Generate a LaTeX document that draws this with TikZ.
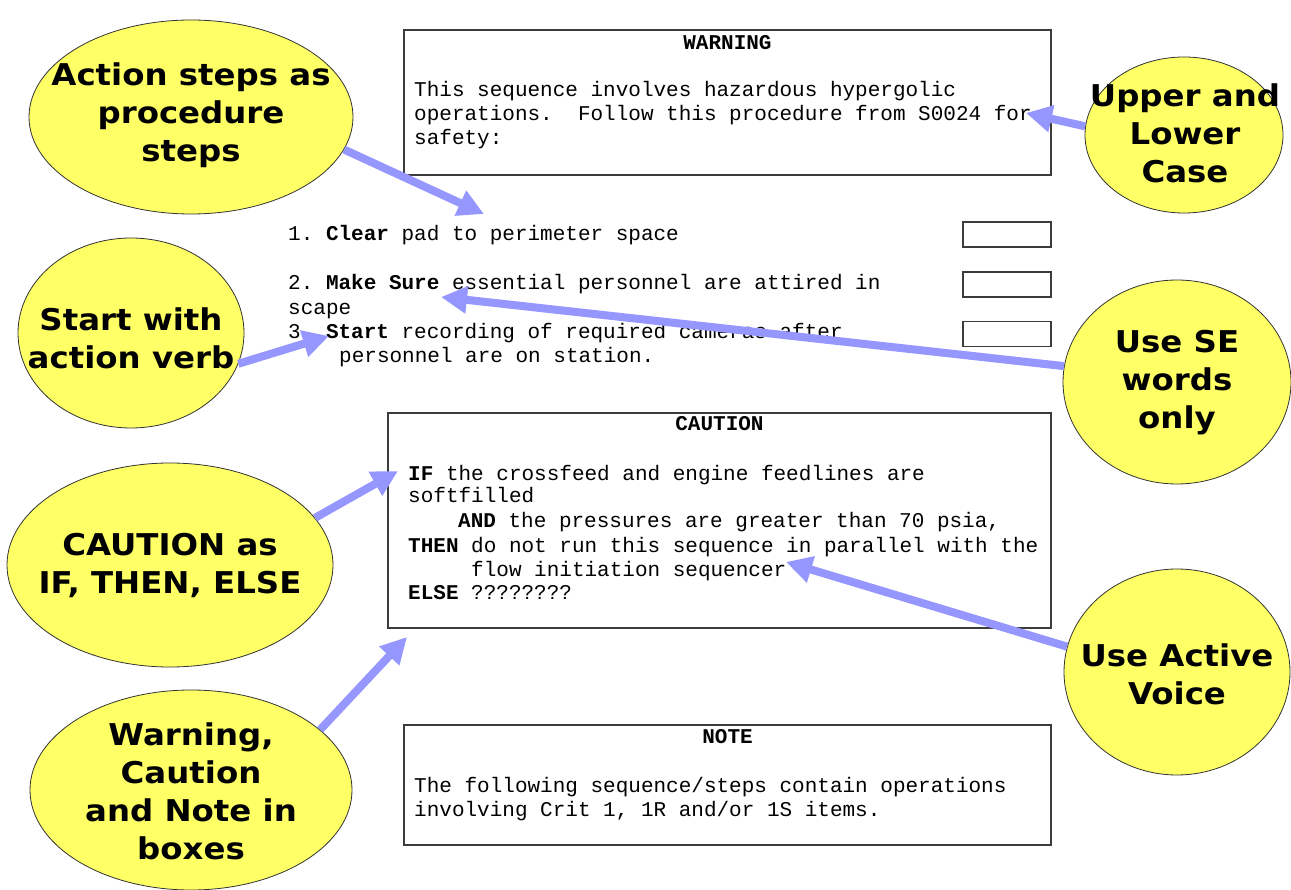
\documentclass[tikz,border=0pt]{standalone}
\usepackage{fontspec}
\usetikzlibrary{shapes.geometric,arrows.meta}
\newfontfamily\mono{Liberation Mono}
\newfontfamily\callfont[FakeStretch=1.08]{DejaVu Sans}
\definecolor{bubble}{RGB}{255,255,102}
\definecolor{pointer}{RGB}{150,150,255}
\definecolor{frame}{RGB}{60,60,60}
\frenchspacing
\tikzset{
  bubble/.style={ellipse, draw=black!80, line width=0.8pt, fill=bubble, inner sep=0pt},
  bubbletext/.style={font=\callfont\bfseries\fontsize{30}{38}\selectfont, align=center, text=black},
  pointer/.style={draw=pointer, line width=8pt, -{Triangle[length=26pt,width=26pt]}},
  panel/.style={draw=frame, line width=1.2pt, fill=white},
  tick/.style={draw=frame, line width=1.2pt, minimum width=88pt, minimum height=25pt, inner sep=0pt},
  ln/.style={font=\mono\fontsize{21}{24}\selectfont, anchor=base west, inner sep=0pt},
  ttl/.style={font=\mono\bfseries\fontsize{21}{24}\selectfont, anchor=base, inner sep=0pt}
}
\begin{document}
\begin{tikzpicture}[x=1pt,y=-1pt]
\useasboundingbox (0,0) rectangle (1291,890);
\fill[white] (0,0) rectangle (1291,890);

% text boxes
\draw[panel] (404,30) rectangle (1051,175);
\draw[panel] (388,413) rectangle (1051,628);
\draw[panel] (404,725) rectangle (1051,845);

% WARNING box
\node[ttl] (wt) at (727.5,50) {WARNING};
\node[ln] (w1) at (414,97) {This sequence involves hazardous hypergolic};
\node[ln] (w2) at (414,121) {operations.\ \ Follow this procedure from S0024 for};
\node[ln] (w3) at (414,145) {safety:};

% procedure steps
\node[ln] (s1) at (288,241) {1. \textbf{Clear} pad to perimeter space};
\node[ln] (s2) at (288,290) {2. \textbf{Make Sure} essential personnel are attired in};
\node[ln] (s2b) at (288,315) {scape};
\node[ln] (s3) at (288,339) {3. \textbf{Start} recording of required cameras after};
\node[ln] (s3b) at (339,363) {personnel are on station.};
\node[tick] (c1) at (1007,234.5) {};
\node[tick] (c2) at (1007,284.5) {};
\node[tick] (c3) at (1007,334) {};

% CAUTION box
\node[ttl] (ct) at (719.5,431) {CAUTION};
\node[ln] (k1) at (408,480) {\textbf{IF} the crossfeed and engine feedlines are};
\node[ln] (k2) at (408,503) {softfilled};
\node[ln] (k3) at (458,527) {\textbf{AND} the pressures are greater than 70 psia,};
\node[ln] (k4) at (408,552) {\textbf{THEN} do not run this sequence in parallel with the};
\node[ln] (k5) at (471,576) {flow initiation sequencer};
\node[ln] (k6) at (408,599) {\textbf{ELSE} ????????};

% NOTE box
\node[ttl] (nt) at (727.5,743) {NOTE};
\node[ln] (n1) at (414,792) {The following sequence/steps contain operations};
\node[ln] (n2) at (414,816) {involving Crit 1, 1R and/or 1S items.};

% callout bubbles
\node[bubble, minimum width=324pt, minimum height=194pt] (eA) at (191,117) {};
\node[bubble, minimum width=198pt, minimum height=156pt] (eB) at (1184,135) {};
\node[bubble, minimum width=226pt, minimum height=190pt] (eC) at (131,333) {};
\node[bubble, minimum width=228pt, minimum height=204pt] (eD) at (1177,382) {};
\node[bubble, minimum width=326pt, minimum height=204pt] (eE) at (170,565) {};
\node[bubble, minimum width=322pt, minimum height=200pt] (eF) at (191,790) {};
\node[bubble, minimum width=226pt, minimum height=206pt] (eG) at (1177,672) {};

\node[bubbletext] (tA) at (191,115) {Action steps as\\procedure\\steps};
\node[bubbletext] (tB) at (1185,133) {Upper and\\Lower\\Case};
\node[bubbletext] (tC) at (131,338) {Start with\\action verb};
\node[bubbletext] (tD) at (1177,383) {Use SE\\words\\only};
\node[bubbletext] (tE) at (170,565) {CAUTION as\\IF, THEN, ELSE};
\node[bubbletext] (tF) at (191,791) {Warning,\\Caution\\and Note in\\boxes};
\node[bubbletext] (tG) at (1177,674) {Use Active\\Voice};

% pointer tips
\coordinate (pA) at (484,214);
\coordinate (pB) at (1026,113);
\coordinate (pC) at (329,336);
\coordinate (pD) at (441,297);
\coordinate (pE) at (398,471);
\coordinate (pF) at (407,637);
\coordinate (pG) at (786,562);

% pointers
\draw[pointer] (eA.-12) -- (pA);
\draw[pointer] (eB.175) -- (pB);
\draw[pointer] (eC.-16) -- (pC);
\draw[pointer] (eD.172) -- (pD);
\draw[pointer] (eE.18) -- (pE);
\draw[pointer] (eF.25) -- (pF);
\draw[pointer] (eG.167) -- (pG);
\end{tikzpicture}
\end{document}
